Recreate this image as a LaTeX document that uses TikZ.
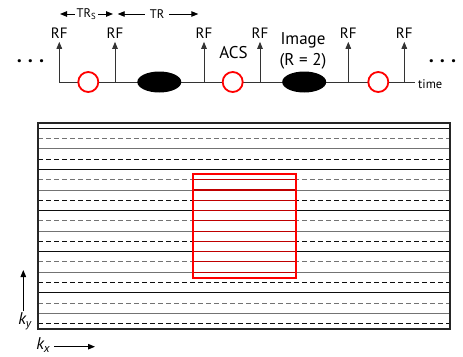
\documentclass[tikz,border=0pt]{standalone}
\usepackage{fontspec}
\setmainfont{PT Sans}
\usepackage{tikz}
\usetikzlibrary{positioning,shapes.geometric,arrows.meta}

\begin{document}
\begin{tikzpicture}[
    x=1pt, y=-1pt,
    >={Triangle[length=7pt,width=5.5pt]},
    pulse/.style={->, draw=black!80, line width=1pt},
    rf/.style={font=\fontsize{15}{15}\selectfont, inner sep=3pt},
    small/.style={font=\fontsize{12.5}{12.5}\selectfont, inner sep=1pt},
    big/.style={font=\fontsize{17}{21}\selectfont, align=center},
    acs/.style={circle, draw=red, line width=1.8pt, fill=white, minimum size=20pt, inner sep=0pt},
    img/.style={ellipse, fill=black, minimum width=44pt, minimum height=21pt, inner sep=0pt},
    ksolid/.style={line width=0.9pt},
    kdash/.style={line width=0.9pt, dash pattern=on 5pt off 3pt}
]
\useasboundingbox (0,0) rectangle (463,356);

% Timeline
\coordinate (T0) at (59.3,82);
\coordinate (T1) at (415,82);
\draw[black!80, line width=1pt] (T0) -- (T1);
\node[small, right=2pt of T1, yshift=-2pt] (time) {time};

% RF pulses
\foreach \i/\x in {1/59.3, 2/115, 3/204, 4/260, 5/348.3, 6/404.3} {
  \coordinate (B\i) at (\x,82);
  \node[rf] (RF\i) at (\x,33.3) {RF};
  \draw[pulse] (B\i) -- (RF\i);
}

% Echoes
\node[acs] (A1) at (88.3,82) {};
\node[img] (I1) at (159.3,82) {};
\node[acs] (A2) at (232.7,82) {};
\node[img] (I2) at (304.2,82) {};
\node[acs] (A3) at (378.3,82) {};

% Labels
\node[big] (acslabel) at (233.5,53) {ACS};
\node[big] (imglabel) at (303,51) {Image\\(R = 2)};
\node[rf, anchor=base, font=\fontsize{20}{20}\selectfont\bfseries] (dotsL) at (30.5,67) {·\hspace{6pt}·\hspace{6pt}·};
\node[rf, anchor=base, font=\fontsize{20}{20}\selectfont\bfseries] (dotsR) at (442.5,67) {·\hspace{6pt}·\hspace{6pt}·};

% Repetition times
\node[small, inner sep=2pt] (trs) at (86.5,14) {TR\textsubscript{S}};
\coordinate (trsL) at (60,14);
\coordinate (trsR) at (113,14);
\draw[->, line width=0.9pt] (trs) -- (trsL);
\draw[->, line width=0.9pt] (trs) -- (trsR);
\node[small, inner sep=5pt] (tr) at (157,14) {TR};
\coordinate (trL) at (117.7,14);
\coordinate (trR) at (198.3,14);
\draw[->, line width=0.9pt] (tr) -- (trL);
\draw[->, line width=0.9pt] (tr) -- (trR);

% k-space lines
\foreach \k in {0,...,19} {
  \pgfmathsetmacro{\yk}{128.3+10.28*\k}
  \pgfmathtruncatemacro{\shade}{(mod(\k,4)==1 || mod(\k,4)==2) ? 55 : 95}
  \ifodd\k
    \draw[kdash, black!\shade] (38,\yk) -- (450,\yk);
  \else
    \draw[ksolid, black!\shade] (38,\yk) -- (450,\yk);
  \fi
}
\coordinate (KTL) at (38,123);
\coordinate (KBR) at (450,329);
\draw[line width=2pt, black!85] (KTL) rectangle (KBR);

% ACS region
\foreach \k in {5,...,14} {
  \pgfmathsetmacro{\yk}{128.3+10.28*\k}
  \draw[red!75!black, line width=1.1pt] (192.7,\yk) -- (295.7,\yk);
}
\draw[red, line width=2pt] (192.7,174.3) rectangle (295.7,277.7);

% Axes
\node[rf, inner sep=1pt, font=\fontsize{17}{17}\selectfont] (ky) at (25,321) {\itshape k\textsubscript{y}};
\coordinate (kyTop) at (23.3,270);
\draw[->, line width=1pt] (ky.north -| kyTop) -- (kyTop);
\node[rf, inner sep=1pt, font=\fontsize{17}{17}\selectfont] (kx) at (43.3,345) {\itshape k\textsubscript{x}};
\coordinate (kxEnd) at (95,346.7);
\draw[->, line width=1pt] (kx.east |- kxEnd) ++(3,0) -- (kxEnd);

\end{tikzpicture}
\end{document}
